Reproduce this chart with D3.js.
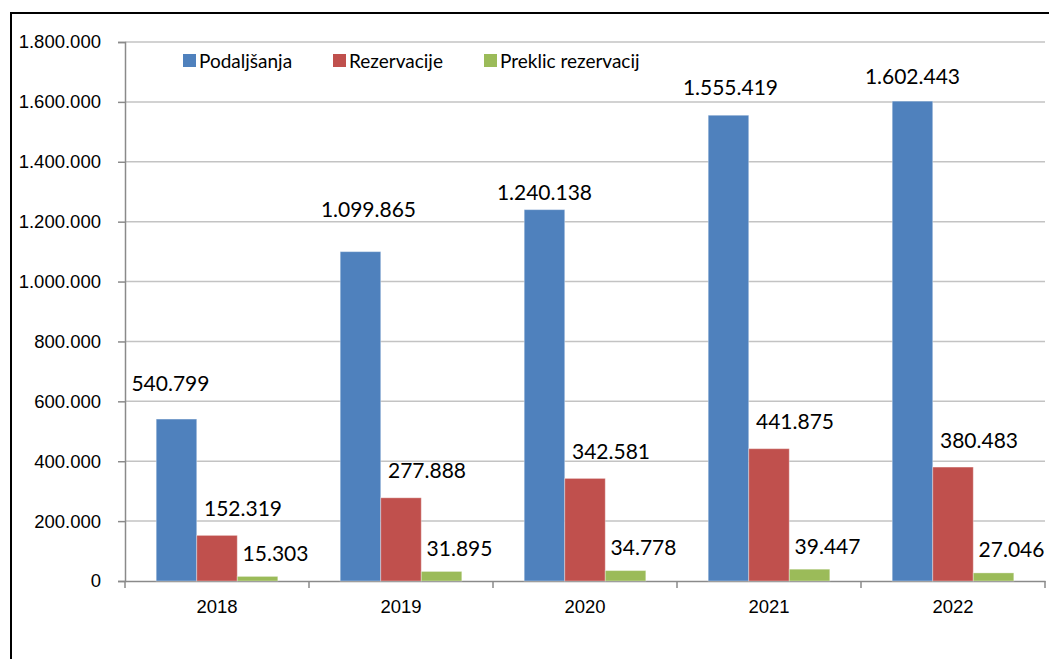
<!DOCTYPE html>
<html>
<head>
<meta charset="utf-8">
<script src="https://cdn.jsdelivr.net/npm/d3@7"></script>
<style>
  body { margin: 0; background: #fff; }
  svg { display: block; font-family: Lato, "Liberation Sans", Arial, sans-serif; }
</style>
</head>
<body>
<svg id="chart"></svg>
<script>
var width = 1049,
    height = 659

// data
var years = ["2018", "2019", "2020", "2021", "2022"];
var seriesNames = ["Podaljšanja", "Rezervacije", "Preklic rezervacij"];
var podaljsanja = [540799, 1099865, 1240138, 1555419, 1602443];
var rezervacije = [152319, 277888, 342581, 441875, 380483];
var preklic = [15303, 31895, 34778, 39447, 27046];
var yTicks = [0, 200000, 400000, 600000, 800000, 1000000, 1200000, 1400000, 1600000, 1800000];

var colors = ["#4F81BD", "#C0504D", "#9BBB59"];
var allSeries = [podaljsanja, rezervacije, preklic];

// label placement (labels were hand-moved in the original)
var labelShift = [[-6, -36], [8, -42], [0, -17], [2, -28], [0, -25]];
var seriesShift = [null, [26, -27], [18, -23]];

var margin = {left: 125, right: 4, top: 42, bottom: 78};

var svg = d3.select("svg#chart")
    .attr("width", width)
    .attr("height", height);

// outer frame (continues past the picture on right and bottom)
svg.append("rect")
    .attr("x", 11).attr("y", 13)
    .attr("width", width + 20).attr("height", height + 20)
    .attr("fill", "none")
    .attr("stroke", "#000")
    .attr("stroke-width", 2);

var x0 = d3.scaleBand()
    .domain(years)
    .range([margin.left, width - margin.right])
    .paddingInner(0)
    .paddingOuter(0);

var x1 = d3.scaleBand()
    .domain(d3.range(3))
    .range([0, x0.bandwidth()])
    .paddingOuter(0.77)
    .paddingInner(0);

var y = d3.scaleLinear()
    .domain([0, 1800000])
    .range([height - margin.bottom, margin.top]);

var fmt = function(v){
    return d3.format(",")(v).replace(/,/g, ".");
};

// gridlines
svg.append("g")
    .selectAll("line")
    .data(yTicks.slice(1))
    .enter()
    .append("line")
    .attr("x1", margin.left)
    .attr("x2", width - margin.right)
    .attr("y1", function(d){ return y(d); })
    .attr("y2", function(d){ return y(d); })
    .attr("stroke", "#c3c3c3")
    .attr("stroke-width", 1.5);

// y axis
var yAxis = svg.append("g")
    .attr("transform", "translate(" + margin.left + ",0)")
    .call(d3.axisLeft(y).tickValues(yTicks).tickSize(7).tickPadding(17).tickFormat(fmt));
yAxis.selectAll("text").attr("font-size", 18.5).attr("fill", "#000").attr("font-family", null);
yAxis.selectAll("line, path").attr("stroke", "#8a8a8a").attr("stroke-width", 1.5);

// x axis
var xAxis = svg.append("g")
    .attr("transform", "translate(0," + y(0) + ")")
    .call(d3.axisBottom(x0).tickSize(0).tickPadding(19));
xAxis.selectAll("text").attr("font-size", 18.5).attr("fill", "#000").attr("font-family", null);
xAxis.select("path").attr("stroke", "#8a8a8a").attr("stroke-width", 1.5);

// category dividers
svg.append("g")
    .selectAll("line")
    .data(years.concat(["end"]))
    .enter()
    .append("line")
    .attr("x1", function(d, i){ return margin.left + i * x0.bandwidth(); })
    .attr("x2", function(d, i){ return margin.left + i * x0.bandwidth(); })
    .attr("y1", y(0))
    .attr("y2", y(0) + 7)
    .attr("stroke", "#8a8a8a")
    .attr("stroke-width", 1.5);

// bars
var groups = svg.selectAll("g.year")
    .data(years)
    .enter()
    .append("g")
    .attr("class", "year")
    .attr("transform", function(d){
        return "translate(" + x0(d) + ",0)";
    });

groups.each(function(year, i){
    var g = d3.select(this);
    allSeries.forEach(function(s, k){
        g.append("rect")
            .attr("x", x1(k))
            .attr("y", y(s[i]))
            .attr("width", x1.bandwidth())
            .attr("height", y(0) - y(s[i]))
            .attr("fill", colors[k])
            .attr("stroke", "rgba(255,255,255,0.35)")
            .attr("stroke-width", 1);

        var sh = k == 0 ? labelShift[i] : seriesShift[k];
        g.append("text")
            .attr("x", x1(k) + x1.bandwidth() / 2 + sh[0])
            .attr("y", y(s[i]) + sh[1])
            .attr("dy", "0.36em")
            .attr("text-anchor", "middle")
            .attr("font-size", 21)
            .attr("fill", "#000")
            .text(fmt(s[i]));
    });
});

// legend
var legendX = [183, 333, 484];
var legend = svg.selectAll("g.legend")
    .data(seriesNames)
    .enter()
    .append("g")
    .attr("class", "legend")
    .attr("transform", function(d, i){
        return "translate(" + legendX[i] + ",54)";
    });

legend.append("rect")
    .attr("width", 13)
    .attr("height", 13)
    .attr("fill", function(d, i){ return colors[i]; });

legend.append("text")
    .attr("x", 16)
    .attr("y", 7)
    .attr("dy", "0.36em")
    .attr("font-size", 19)
    .attr("fill", "#000")
    .text(function(d){ return d; });
</script>
</body>
</html>
